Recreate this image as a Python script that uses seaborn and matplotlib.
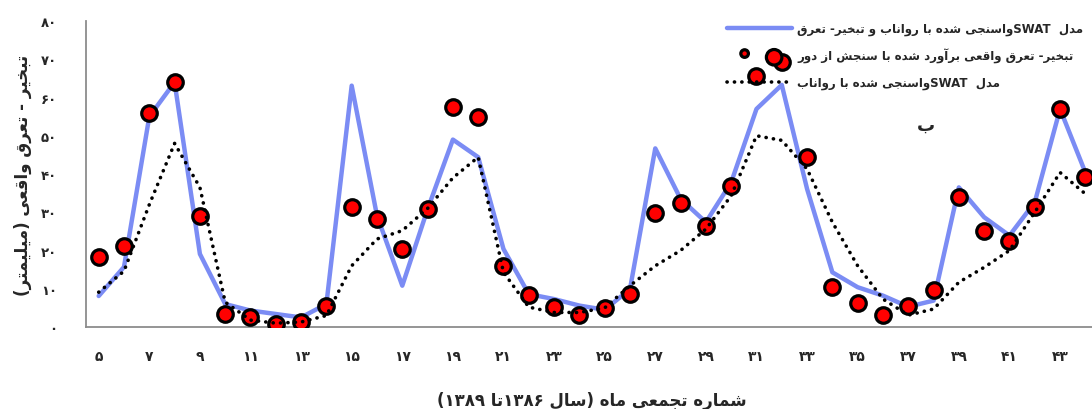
import re
import matplotlib
matplotlib.use("Agg")
import matplotlib.pyplot as plt
from matplotlib.legend_handler import HandlerPathCollection
import pandas as pd
import seaborn as sns

# monthly values (mm)
months = list(range(5, 45))
observed_et = [18.3, 21.2, 55.9, 64.0, 29.0, 3.4, 2.5, 0.8, 1.2, 5.6,
               31.5, 28.2, 20.4, 30.8, 57.6, 54.8, 15.9, 8.4, 5.3, 3.2,
               4.9, 8.5, 29.7, 32.3, 26.5, 36.9, 65.5, 69.2, 44.4, 10.4,
               6.3, 3.2, 5.6, 9.7, 34.1, 25.0, 22.6, 31.5, 57.0, 39.1]
swat_runoff_et = [8.1, 15.7, 55.0, 64.0, 19.1, 6.0, 4.3, 3.4, 2.5, 6.0,
                  63.1, 29.1, 10.8, 30.8, 49.0, 44.4, 20.4, 8.6, 7.3, 5.6,
                  4.5, 9.9, 46.7, 33.5, 27.4, 37.8, 57.0, 63.3, 36.1, 14.3,
                  10.4, 8.2, 5.3, 6.9, 36.5, 28.7, 23.9, 32.6, 57.0, 40.4]
swat_runoff = [9.1, 14.6, 32.0, 48.0, 36.5, 6.5, 1.8, 1.0, 1.3, 3.0,
               16.0, 23.0, 25.2, 31.0, 39.0, 44.4, 14.3, 5.2, 3.8, 3.8,
               5.0, 10.8, 16.0, 20.0, 25.6, 34.3, 50.0, 48.8, 41.3, 27.4,
               16.0, 7.3, 3.1, 4.7, 11.7, 15.6, 20.0, 30.0, 40.4, 34.8]

y_ticks = list(range(0, 90, 10))
x_label_months = list(range(5, 44, 2))

label_swat_both = "مدل  SWATواسنجی شده با رواناب و تبخیر- تعرق"
label_observed = "تبخیر- تعرق واقعی برآورد شده با سنجش از دور"
label_swat_runoff = "مدل  SWATواسنجی شده با رواناب"
x_title = "شماره تجمعی ماه (سال ۱۳۸۶تا ۱۳۸۹)"
y_title = "تبخیر - تعرق واقعی (میلیمتر)"
panel_tag = "ب"

# matplotlib has no arabic shaping, so use presentation forms + reverse for RTL
FORMS = {
    "ا": ("\uFE8D", "\uFE8E"), "آ": ("\uFE81", "\uFE82"),
    "د": ("\uFEA9", "\uFEAA"), "ر": ("\uFEAD", "\uFEAE"),
    "ز": ("\uFEAF", "\uFEB0"), "و": ("\uFEED", "\uFEEE"),
    "ب": ("\uFE8F", "\uFE90", "\uFE91", "\uFE92"),
    "ت": ("\uFE95", "\uFE96", "\uFE97", "\uFE98"),
    "ج": ("\uFE9D", "\uFE9E", "\uFE9F", "\uFEA0"),
    "خ": ("\uFEA5", "\uFEA6", "\uFEA7", "\uFEA8"),
    "س": ("\uFEB1", "\uFEB2", "\uFEB3", "\uFEB4"),
    "ش": ("\uFEB5", "\uFEB6", "\uFEB7", "\uFEB8"),
    "ع": ("\uFEC9", "\uFECA", "\uFECB", "\uFECC"),
    "ق": ("\uFED5", "\uFED6", "\uFED7", "\uFED8"),
    "ل": ("\uFEDD", "\uFEDE", "\uFEDF", "\uFEE0"),
    "م": ("\uFEE1", "\uFEE2", "\uFEE3", "\uFEE4"),
    "ن": ("\uFEE5", "\uFEE6", "\uFEE7", "\uFEE8"),
    "ه": ("\uFEE9", "\uFEEA", "\uFEEB", "\uFEEC"),
    "ی": ("\uFEEF", "\uFEF0", "\uFEF3", "\uFEF4"),
}


def fa(text):
    out = []
    for i, ch in enumerate(text):
        forms = FORMS.get(ch)
        if forms is None:
            out.append(ch)
            continue
        prev = text[i - 1] if i > 0 else ""
        nxt = text[i + 1] if i + 1 < len(text) else ""
        join_prev = len(FORMS.get(prev, ())) == 4
        join_next = len(forms) == 4 and nxt in FORMS
        if join_prev and join_next:
            out.append(forms[3])
        elif join_prev:
            out.append(forms[1])
        elif join_next:
            out.append(forms[2])
        else:
            out.append(forms[0])
    rev = "".join(out)[::-1].translate(str.maketrans("()", ")("))
    return re.sub(r"[A-Za-z0-9۰-۹]+", lambda m: m.group(0)[::-1], rev)


def fa_num(n):
    return str(n).translate(str.maketrans("0123456789", "۰۱۲۳۴۵۶۷۸۹"))


df = pd.DataFrame({"month": months, "observed": observed_et,
                   "swat_both": swat_runoff_et, "swat_runoff": swat_runoff})

sns.set_style("white")
plt.rcParams["font.family"] = ["DejaVu Sans"]
plt.rcParams["font.weight"] = "bold"

fig = plt.figure(figsize=(10.92, 4.10), dpi=100)
ax = fig.add_axes([0.0788, 0.2, 0.9267, 0.7463])

sns.lineplot(data=df, x="month", y="swat_both", color="#7B8CF4", lw=3.2,
             label=fa(label_swat_both), zorder=2, ax=ax)
sns.scatterplot(data=df, x="month", y="observed", s=125, color="#FF0000",
                edgecolor="black", linewidth=2.3, zorder=3,
                label=fa(label_observed), ax=ax)
sns.lineplot(data=df, x="month", y="swat_runoff", color="black", lw=2.6,
             linestyle=(0, (0.05, 2.0)), dash_capstyle="round",
             label=fa(label_swat_runoff), zorder=4, ax=ax)

ax.set_xlim(4.5, 44.5)
ax.set_ylim(0, 80)
ax.set_yticks(y_ticks)
ax.set_yticklabels([fa_num(v) for v in y_ticks])
ax.set_xticks(x_label_months)
ax.set_xticklabels([fa_num(m) for m in x_label_months])
ax.set_xticks([m + 0.5 for m in range(4, 45)], minor=True)
ax.tick_params(axis="x", which="major", length=0, pad=16, labelsize=10)
ax.tick_params(axis="x", which="minor", length=5, width=1.2, color="#8c8c8c",
               direction="out")
ax.tick_params(axis="y", length=5, width=1.2, color="#8c8c8c", pad=16,
               labelsize=9.5, direction="out")

for side in ["top", "right"]:
    ax.spines[side].set_visible(False)
for side in ["left", "bottom"]:
    ax.spines[side].set_color("#8c8c8c")
    ax.spines[side].set_linewidth(1.3)

ax.set_xlabel(fa(x_title), fontsize=12, fontweight="bold", labelpad=20)
ax.set_ylabel(fa(y_title), fontsize=12, fontweight="bold", labelpad=6)

ax.text(37.7, 53, fa(panel_tag), fontsize=13, fontweight="bold",
        ha="center", va="center")

handles, labels = ax.get_legend_handles_labels()
order = [labels.index(fa(t)) for t in [label_swat_both, label_observed, label_swat_runoff]]
scatter_handle = handles[order[1]]
ax.legend([handles[i] for i in order], [labels[i] for i in order],
          loc="upper right", bbox_to_anchor=(1088 / 1092, 1 - 18 / 410),
          bbox_transform=fig.transFigure, frameon=False, fontsize=8.5,
          handlelength=5.5, handletextpad=0.45, labelspacing=1.1,
          borderaxespad=0, scatterpoints=2,
          handler_map={scatter_handle: HandlerPathCollection(
              sizes=[30, 125], yoffsets=[0.75, 0.3], marker_pad=1.5)})

fig.savefig("out.png", dpi=100)
